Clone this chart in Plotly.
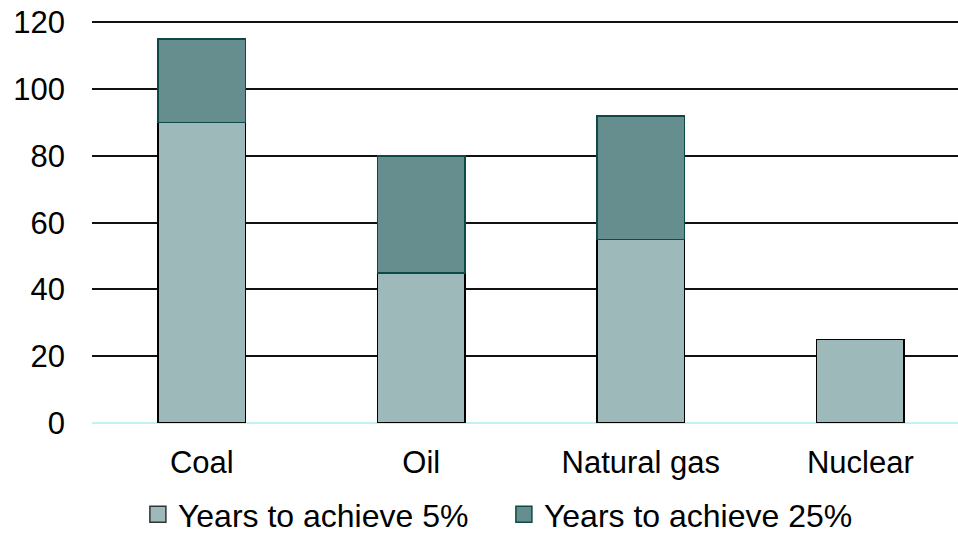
import plotly.graph_objects as go

categories = ["Coal", "Oil", "Natural gas", "Nuclear"]
years_5pct = [90, 45, 55, 25]
years_25pct_extra = [25, 35, 37, None]
y_ticks = [0, 20, 40, 60, 80, 100, 120]
series_names = ["Years to achieve 5%", "Years to achieve 25%"]

FONT = "Liberation Sans, Arial, sans-serif"
LIGHT, LIGHT_EDGE = "#9db9ba", "#000000"
DARK, DARK_EDGE = "#668e8f", "#0b4a46"

fig = go.Figure()
fig.add_trace(go.Bar(
    x=categories, y=years_5pct, name=series_names[0], showlegend=False,
    marker=dict(color=LIGHT, line=dict(color=LIGHT_EDGE, width=1.5)),
))
fig.add_trace(go.Bar(
    x=categories, y=years_25pct_extra, name=series_names[1], showlegend=False,
    marker=dict(color=DARK, line=dict(color=DARK_EDGE, width=1.5)),
))

# legend keys: square swatches sized like the chart's key boxes
for name, fill, edge in [(series_names[0], LIGHT, "#333333"), (series_names[1], DARK, DARK_EDGE)]:
    fig.add_trace(go.Scatter(
        x=[None], y=[None], mode="markers", name=name,
        marker=dict(symbol="square", size=16, color=fill, line=dict(color=edge, width=1.5)),
    ))

fig.update_layout(
    barmode="stack",
    bargap=0.6,
    width=958, height=536,
    margin=dict(l=92, r=0, t=21, b=113, autoexpand=False),
    paper_bgcolor="white", plot_bgcolor="white",
    font=dict(family=FONT, size=31, color="#000000"),
    showlegend=True,
    legend=dict(
        orientation="h", x=0.053, xanchor="left",
        yref="container", y=0.04, yanchor="middle",
        font=dict(size=32), itemsizing="trace", traceorder="normal",
        entrywidth=321, bgcolor="rgba(0,0,0,0)",
    ),
    xaxis=dict(
        range=[-0.5, 3.445], showgrid=False, showline=False, ticks="",
        tickfont=dict(size=31), ticklabelstandoff=18, fixedrange=True,
    ),
    yaxis=dict(
        range=[0, 120.4], tickvals=y_ticks, showgrid=True,
        gridcolor="#111111", gridwidth=1.5, zeroline=True,
        zerolinecolor="#c4f2f2", zerolinewidth=2, showline=False,
        ticks="", ticklabelstandoff=26, tickfont=dict(size=31),
    ),
)

fig.write_html("out.html")
